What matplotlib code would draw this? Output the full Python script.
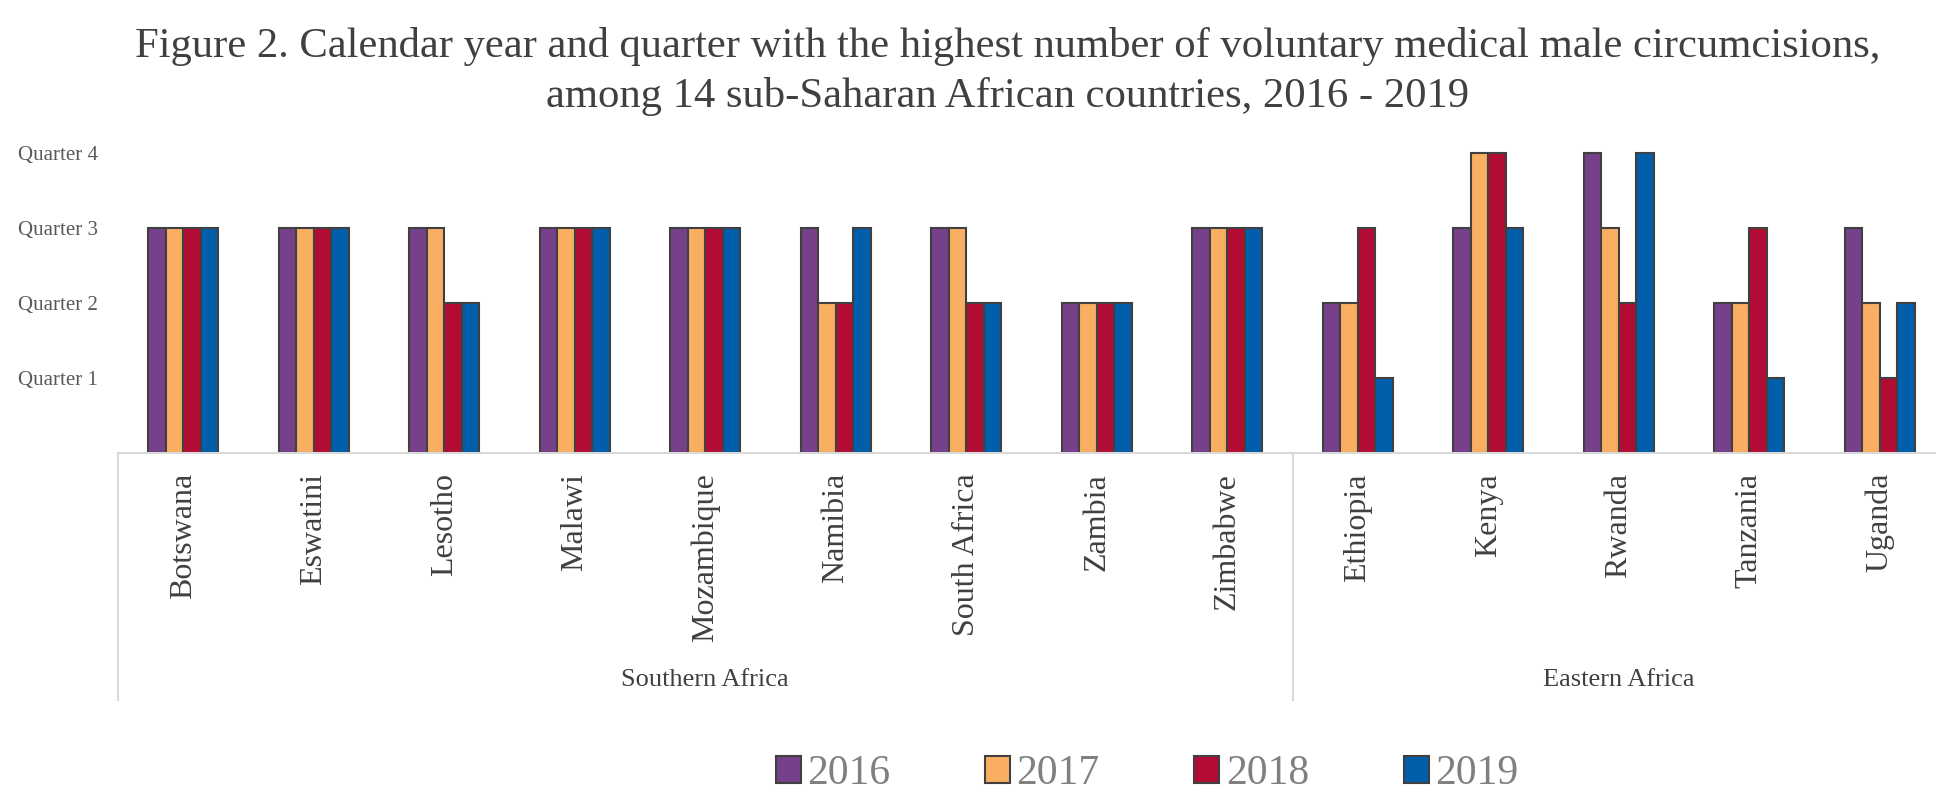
import numpy as np
import matplotlib.pyplot as plt
from matplotlib.patches import Patch
from matplotlib import transforms

plt.rcParams['font.family'] = ['Liberation Serif', 'DejaVu Serif']

countries = ['Botswana', 'Eswatini', 'Lesotho', 'Malawi', 'Mozambique', 'Namibia',
             'South Africa', 'Zambia', 'Zimbabwe',
             'Ethiopia', 'Kenya', 'Rwanda', 'Tanzania', 'Uganda']
regions = ['Southern Africa', 'Eastern Africa']
region_sizes = [9, 5]
years = ['2016', '2017', '2018', '2019']
q2016 = [3, 3, 3, 3, 3, 3, 3, 2, 3, 2, 3, 4, 2, 3]
q2017 = [3, 3, 3, 3, 3, 2, 3, 2, 3, 2, 4, 3, 2, 2]
q2018 = [3, 3, 2, 3, 3, 2, 2, 2, 3, 3, 4, 2, 3, 1]
q2019 = [3, 3, 2, 3, 3, 3, 2, 2, 3, 1, 3, 4, 1, 2]
quarter_labels = ['Quarter 1', 'Quarter 2', 'Quarter 3', 'Quarter 4']
colors = ['#76418A', '#F9AE62', '#B30C34', '#005EAB']

W, H = 1936, 794
fig = plt.figure(figsize=(W / 100, H / 100), dpi=100)

# axes placed in pixel terms: baseline at y=453, 75 px per quarter, 130.5 px per country
base = 453
ax = fig.add_axes([118 / W, (H - base) / H, 14 * 130.5 / W, 4.2 * 75 / H])

x = np.arange(len(countries))
bw = 0.134
for i, (vals, c) in enumerate(zip([q2016, q2017, q2018, q2019], colors)):
    ax.bar(x + (i - 1.5) * bw, vals, bw, color=c, edgecolor='#404040', linewidth=1.5,
           label=years[i])

ax.set_xlim(-0.5, 13.5)
ax.set_ylim(0, 4.2)
ax.set_yticks([1, 2, 3, 4])
ax.set_yticklabels(quarter_labels, fontsize=15, color='#595959')
ax.tick_params(axis='y', length=0, pad=14.4)
ax.set_xticks([])
for s in ['top', 'right', 'left']:
    ax.spines[s].set_visible(False)
ax.spines['bottom'].set_color('#d9d9d9')
ax.spines['bottom'].set_linewidth(1.5)

trans = transforms.blended_transform_factory(ax.transData, fig.transFigure)
for xi, name in zip(x, countries):
    ax.text(xi, (H - 473) / H, name, rotation=90, ha='center', va='top',
            fontsize=23, color='#404040', transform=trans)

start = 0
edges = [-0.5]
for reg, n in zip(regions, region_sizes):
    left, right = start - 0.5, start + n - 0.5
    ax.text((left + right) / 2, (H - 680) / H, reg, ha='center', va='center',
            fontsize=19, color='#404040', transform=trans)
    edges.append(right)
    start += n
for e in edges[:-1]:
    ax.plot([e, e], [(H - base) / H, (H - 700) / H], color='#d9d9d9', lw=1.5,
            transform=trans, clip_on=False)

fig.text(1008 / W, (H - 57) / H, 'Figure 2. Calendar year and quarter with the highest number of '
         'voluntary medical male circumcisions,', ha='center', va='baseline',
         fontsize=30.7, color='#404040')
fig.text(1008 / W, (H - 107) / H, 'among 14 sub-Saharan African countries, 2016 - 2019',
         ha='center', va='baseline', fontsize=30.7, color='#404040')

handles = [Patch(facecolor=c, edgecolor='#404040', linewidth=1.5) for c in colors]
fig.legend(handles, years, loc='center', bbox_to_anchor=(1147 / W, (H - 774) / H),
           ncol=4, frameon=False, fontsize=30, labelcolor='#808080',
           handlelength=0.6, handleheight=0.6, handletextpad=0.15, columnspacing=2.28,
           borderpad=0)

fig.savefig('out.png', dpi=100)
